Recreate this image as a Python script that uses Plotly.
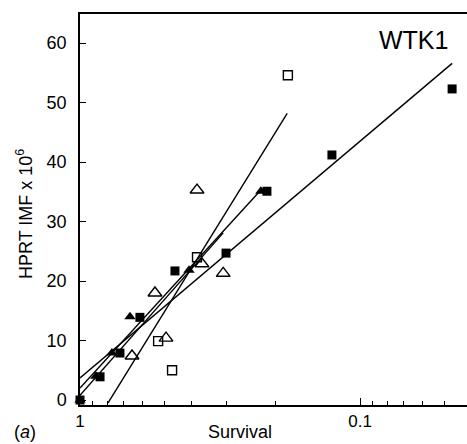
import plotly.graph_objects as go

# ---- data ----
sq_filled_x = [1.0, 0.848, 0.720, 0.611, 0.458, 0.301, 0.215, 0.126, 0.0469]
sq_filled_y = [0.0, 3.9, 7.9, 13.9, 21.7, 24.7, 35.1, 41.2, 52.3]

tri_filled_x = [1.0, 0.877, 0.769, 0.663, 0.408, 0.226]
tri_filled_y = [0.0, 4.0, 7.9, 14.0, 21.8, 35.1]

sq_open_x = [0.526, 0.469, 0.382, 0.181]
sq_open_y = [9.9, 5.0, 24.0, 54.6]

tri_open_x = [0.652, 0.540, 0.493, 0.382, 0.367, 0.308]
tri_open_y = [7.4, 18.0, 10.4, 35.3, 22.9, 21.3]

# fitted regression lines (endpoints)
fit_lines = [
    ([1.0, 0.0469], [3.7, 56.6]),
    ([1.0, 0.226], [2.0, 35.3]),
    ([1.0, 0.308], [0.8, 28.1]),
    ([0.794, 0.182], [-0.5, 48.2]),
]

x_ticks = [1, 0.1]
x_ticktext = ["1", "0.1"]
x_minor = [0.9, 0.8, 0.7, 0.6, 0.5, 0.4, 0.3, 0.2, 0.09, 0.08, 0.07, 0.06, 0.05, 0.04]
y_ticks = [0, 10, 20, 30, 40, 50, 60]

FONT = "Liberation Sans"

fig = go.Figure()

for lx, ly in fit_lines:
    fig.add_trace(go.Scatter(x=lx, y=ly, mode="lines",
                             line=dict(color="black", width=1.4),
                             showlegend=False, hoverinfo="skip"))

fig.add_trace(go.Scatter(x=tri_open_x, y=tri_open_y, mode="markers",
                         marker=dict(symbol="triangle-up-open", size=12,
                                     color="black", line=dict(width=1.4)),
                         showlegend=False, cliponaxis=False))
fig.add_trace(go.Scatter(x=sq_open_x, y=sq_open_y, mode="markers",
                         marker=dict(symbol="square-open", size=9,
                                     color="black", line=dict(width=1.4)),
                         showlegend=False, cliponaxis=False))
fig.add_trace(go.Scatter(x=tri_filled_x, y=tri_filled_y, mode="markers",
                         marker=dict(symbol="triangle-up", size=10, color="black"),
                         showlegend=False, cliponaxis=False))
fig.add_trace(go.Scatter(x=sq_filled_x, y=sq_filled_y, mode="markers",
                         marker=dict(symbol="square", size=9, color="black"),
                         showlegend=False, cliponaxis=False))

fig.update_layout(
    width=467, height=444,
    margin=dict(l=80, r=0, t=14, b=39),
    paper_bgcolor="white", plot_bgcolor="white",
    font=dict(family=FONT, size=18, color="black"),
    xaxis=dict(type="log", range=[0.0, -1.382],
               tickvals=x_ticks, ticktext=x_ticktext,
               ticks="inside", ticklen=7, tickwidth=1, tickcolor="black",
               showgrid=False, zeroline=False,
               showline=True, linecolor="black", linewidth=1.5, mirror=True,
               minor=dict(tickvals=x_minor, ticks="inside", ticklen=4,
                          tickcolor="black", showgrid=False),
               tickfont=dict(size=17)),
    yaxis=dict(range=[-0.84, 64.9], tickvals=y_ticks,
               ticks="inside", ticklen=6, tickwidth=1, tickcolor="black",
               showgrid=False, zeroline=False,
               showline=True, linecolor="black", linewidth=1.5,
               ticklabelstandoff=8,
               tickfont=dict(size=18)),
    annotations=[
        dict(text="WTK1", x=413, y=40, showarrow=False, font=dict(size=25)),
        dict(text="Survival", x=240, y=432, showarrow=False, font=dict(size=18)),
        dict(text="HPRT IMF x 10<sup>6</sup>", x=25, y=214, textangle=-90,
             showarrow=False, font=dict(size=18)),
        dict(text="(<i>a</i>)", x=25, y=432, showarrow=False, font=dict(size=18)),
    ],
)

# convert pixel-positioned annotations to paper coordinates
W, H = 467, 444
L, R, T, B = 80, 0, 14, 39
pw, ph = W - L - R, H - T - B
new_ann = []
for a in fig.layout.annotations:
    px, py = a.x, a.y
    a.x = (px - L) / pw
    a.y = (H - B - py) / ph
    a.xref = "paper"
    a.yref = "paper"
    a.xanchor = "center"
    a.yanchor = "middle"
    new_ann.append(a)
fig.layout.annotations = new_ann

fig.write_html("out.html")
